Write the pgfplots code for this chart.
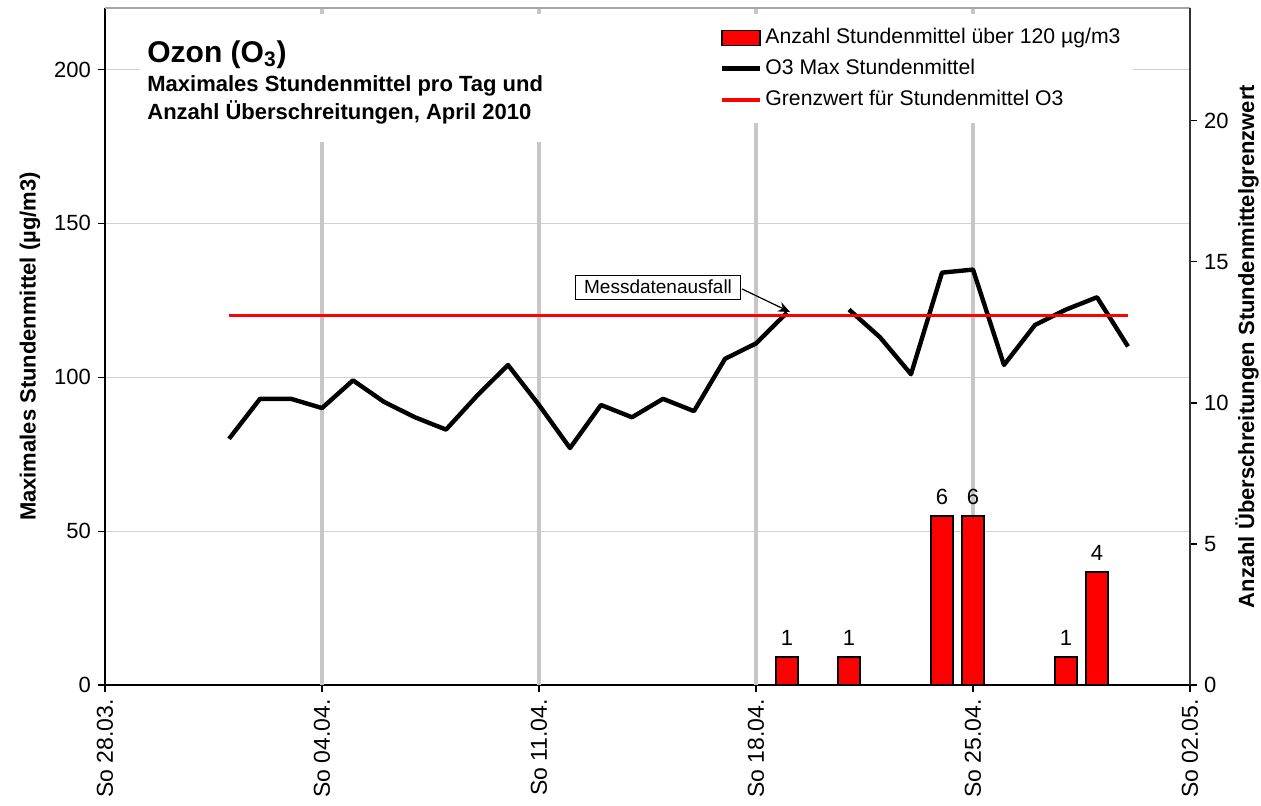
\documentclass[border=0pt]{standalone}
\usepackage{pgfplots}
\pgfplotsset{compat=1.18}
\usepackage{pgfplotstable}
\usepackage{fontspec}
\setmainfont{Liberation Sans}
\usetikzlibrary{arrows.meta}

\pgfplotstableread{
day val
4 80
5 93
6 93
7 90
8 99
9 92
10 87
11 83
12 94
13 104
14 91
15 77
16 91
17 87
18 93
19 89
20 106
21 111
22 121
23 nan
24 122
25 113
26 101
27 134
28 135
29 104
30 117
31 122
32 126
33 110
}\ozon

\pgfplotstableread{
day n
22 1
24 1
27 6
28 6
31 1
32 4
}\bars

\pgfplotsset{
  mybarlegend/.style={legend image code/.code={\draw[##1,line width=0.8pt] (0pt,-3.75pt) rectangle (19pt,3.75pt);}},
  mylinelegend/.style={legend image code/.code={\draw[##1] (0pt,0pt) -- (19pt,0pt);}},
}

\begin{document}
\begin{tikzpicture}
\begin{axis}[
  width=542.5pt, height=338.5pt, scale only axis,
  xmin=0, xmax=35, ymin=0, ymax=220,
  axis x line*=bottom, axis y line*=left,
  axis line style={black, line width=0.6pt, -},
  xtick={0,7,...,35},
  xticklabels={So 28.03.,So 04.04.,So 11.04.,So 18.04.,So 25.04.,So 02.05.},
  xticklabel style={rotate=90, anchor=east, font=\fontsize{11.5}{13}\selectfont},
  extra x ticks={7,14,21,28},
  extra x tick labels={},
  extra x tick style={grid=major, major tick length=0pt},
  x grid style={color=black!22, line width=2pt},
  ytick={0,50,...,200},
  yticklabel style={font=\fontsize{11}{13}\selectfont},
  /pgf/number format/assume math mode=true,
  tick align=outside, major tick length=3.5pt,
  tick style={black, line width=0.6pt},
  ymajorgrids,
  y grid style={color=black!18, line width=0.5pt},
  unbounded coords=jump,
  clip=false,
]
\addplot[black, line width=2.2pt, line join=round] table[x=day,y=val]{\ozon};
\addplot[red, line width=1.6pt] coordinates {(4,120) (33,120)};
\draw[black!35, line width=0.6pt] (rel axis cs:0,1) -- (rel axis cs:1,1);
% title box
\fill[white] (rel axis cs:0.0323,0.9911) rectangle (rel axis cs:0.5576,0.8021);
\node[anchor=base west, inner sep=0pt, font=\bfseries\fontsize{15}{18}\selectfont] at (rel axis cs:0.0387,0.9202) {Ozon (O\textsubscript{3})};
\node[anchor=base west, inner sep=0pt, font=\bfseries\fontsize{11}{13}\selectfont] at (rel axis cs:0.0387,0.8774) {Maximales Stundenmittel pro Tag und};
\node[anchor=base west, inner sep=0pt, font=\bfseries\fontsize{11}{13}\selectfont] at (rel axis cs:0.0387,0.8346) {Anzahl Überschreitungen, April 2010};
% annotation
\draw[-{Stealth[length=6pt,width=5pt]}, line width=0.6pt] (axis cs:20.55,128.7) -- (axis cs:22.1,121.2);
\node[draw=black, line width=0.5pt, fill=white, inner xsep=4.5pt, inner ysep=0pt, minimum height=12pt, font=\fontsize{9.5}{11}\selectfont] at (axis cs:17.84,129.3) {Messdatenausfall};
\end{axis}

\begin{axis}[
  width=542.5pt, height=338.5pt, scale only axis,
  xmin=0, xmax=35, ymin=0, ymax=24,
  axis x line=none, axis y line*=right,
  axis line style={black!80, line width=0.8pt, -},
  ytick={0,5,...,20},
  yticklabel style={font=\fontsize{11}{13}\selectfont},
  /pgf/number format/assume math mode=true,
  tick align=outside, major tick length=3.5pt,
  tick style={black, line width=0.6pt},
  ybar, bar width=0.71,
  clip=false,
  legend cell align=left,
  legend style={at={(rel axis cs:0.5576,0.9911)}, anchor=north west, draw=none, fill=white,
    inner xsep=4.5pt, inner ysep=4.5pt, row sep=1pt,
    font=\fontsize{10.6}{13}\selectfont,
    nodes={inner xsep=1.5pt, inner ysep=2pt, text height=8pt, text depth=2.5pt}},
]
\addplot[fill=red, draw=black, line width=0.8pt, mybarlegend,
  nodes near coords,
  nodes near coords style={text=black, font=\fontsize{11}{13}\selectfont, yshift=2pt},
] table[x=day,y=n]{\bars};
\addlegendentry{Anzahl Stundenmittel über 120 µg/m3}
\addlegendimage{black, line width=2.5pt, mylinelegend}
\addlegendentry{O3 Max Stundenmittel}
\addlegendimage{red, line width=1.6pt, mylinelegend}
\addlegendentry{Grenzwert für Stundenmittel O3}
\end{axis}

\node[rotate=90, font=\bfseries\fontsize{11}{13}\selectfont] at (-37.5pt,169.25pt) {Maximales Stundenmittel (µg/m3)};
\node[rotate=90, font=\bfseries\fontsize{11}{13}\selectfont] at (571pt,169.25pt) {Anzahl Überschreitungen Stundenmittelgrenzwert};

\pgfresetboundingbox
\path[use as bounding box] (-52.5pt,-60pt) rectangle (578pt,342.5pt);
\end{tikzpicture}
\end{document}
